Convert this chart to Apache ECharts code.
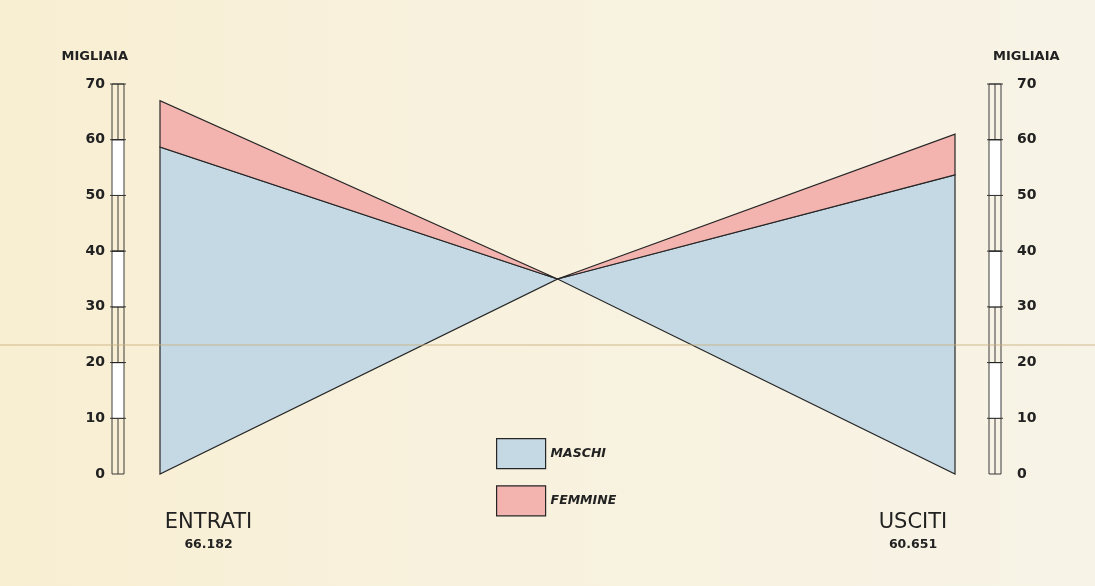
<!DOCTYPE html>
<html>
<head>
<meta charset="utf-8">
<script src="https://cdn.jsdelivr.net/npm/echarts@6/dist/echarts.min.js"></script>
<style>
  html, body { margin: 0; padding: 0; }
  body { background: linear-gradient(90deg, #f8eed2 0%, #f8f1dd 40%, #f7f3e6 100%); }
  #chart { width: 1095px; height: 586px; }
</style>
</head>
<body>
<div id="chart"></div>
<script>
// categorie (estremi del grafico)
const sides = ['ENTRATI', '', 'USCITI']
const totalLabels = ['66.182', '60.651']
// migliaia
const maschi = [58.7, 53.7]
const femmine = [8.3, 7.3]
const crossValue = 35
const yTicks = [0, 10, 20, 30, 40, 50, 60, 70]

const BLUE = '#c5d9e4'
const PINK = '#f3b3af'
const INK = '#262626'

const chart = echarts.init(document.getElementById('chart'))

// 0 -> lato sinistro, 1 -> lato destro
const sideData = maschi.map((m, i) => [i, m, m + femmine[i]])

function edgeIndex(side) {
  return side === 0 ? 0 : sides.length - 1
}

function triangle(api, lo, hi, fill) {
  const side = api.value(0)
  const x = edgeIndex(side)
  const p1 = api.coord([x, lo])
  const p2 = api.coord([x, hi])
  const c = api.coord([1, crossValue])
  return {
    type: 'polygon',
    shape: { points: [p1, p2, c] },
    style: { fill: fill, stroke: INK, lineWidth: 1.2 }
  }
}

// segmenti della scala verticale
const scaleSegments = []
for (let i = 0; i < yTicks.length - 1; i++) {
  scaleSegments.push([yTicks[i], yTicks[i + 1], i % 2])
}

function scaleBar(params, api) {
  const lo = api.value(0)
  const hi = api.value(1)
  const solid = api.value(2)
  const a = api.coord([0, lo])
  const b = api.coord([0, hi])
  const gridLeft = params.coordSys.x
  const gridRight = params.coordSys.x + params.coordSys.width
  const children = []
  const bars = [gridLeft - 48, gridRight + 34]
  bars.forEach(x0 => {
    const w = 12
    children.push({
      type: 'rect',
      shape: { x: x0, y: b[1], width: w, height: a[1] - b[1] },
      style: { fill: solid ? '#ffffff' : 'transparent', stroke: INK, lineWidth: 0.9 }
    })
    if (!solid) {
      children.push({
        type: 'line',
        shape: { x1: x0 + w / 2, y1: b[1], x2: x0 + w / 2, y2: a[1] },
        style: { stroke: INK, lineWidth: 0.9 }
      })
    }
    children.push({
      type: 'line',
      shape: { x1: x0 - 2, y1: b[1], x2: x0 + w + 2, y2: b[1] },
      style: { stroke: INK, lineWidth: 0.9 }
    })
  })
  return { type: 'group', children: children }
}

const axisLabelStyle = {
  color: '#222',
  fontFamily: 'DejaVu Sans',
  fontWeight: 'bold',
  fontSize: 14
}

const nameStyle = {
  color: '#222',
  fontFamily: 'DejaVu Sans',
  fontWeight: 'bold',
  fontSize: 13
}

chart.setOption({
  backgroundColor: 'transparent',
  animation: false,
  grid: { left: 160, right: 140, top: 84, bottom: 112 },
  legend: {
    orient: 'vertical',
    left: 496,
    top: 438,
    padding: 0,
    itemWidth: 49,
    itemHeight: 30,
    itemGap: 16,
    data: [
      { name: 'MASCHI', icon: 'rect', itemStyle: { color: BLUE, borderColor: INK, borderWidth: 1.2 } },
      { name: 'FEMMINE', icon: 'rect', itemStyle: { color: PINK, borderColor: INK, borderWidth: 1.2 } }
    ],
    textStyle: {
      color: '#222',
      fontFamily: 'DejaVu Sans',
      fontStyle: 'italic',
      fontWeight: 'bold',
      fontSize: 12.5
    },
    selectedMode: false
  },
  xAxis: {
    type: 'category',
    data: sides,
    boundaryGap: false,
    axisLine: { show: false },
    axisTick: { show: false },
    splitLine: { show: false },
    axisLabel: {
      interval: 0,
      margin: 37,
      alignMinLabel: 'left',
      alignMaxLabel: 'right',
      formatter: function (value, index) {
        if (index === 0) return '{l|' + value + '}\n{nl|' + totalLabels[0] + '}'
        if (index === sides.length - 1) return '{r|' + value + '}\n{nr|' + totalLabels[1] + '}'
        return ''
      },
      rich: {
        l: { width: 97, align: 'center', fontSize: 21, fontFamily: 'DejaVu Sans', color: '#222', lineHeight: 24 },
        nl: { width: 97, align: 'center', fontSize: 12.5, fontWeight: 'bold', fontFamily: 'DejaVu Sans', color: '#222', lineHeight: 20 },
        r: { width: 84, align: 'center', fontSize: 21, fontFamily: 'DejaVu Sans', color: '#222', lineHeight: 24 },
        nr: { width: 84, align: 'center', fontSize: 12.5, fontWeight: 'bold', fontFamily: 'DejaVu Sans', color: '#222', lineHeight: 20 }
      }
    }
  },
  yAxis: [
    {
      type: 'value',
      min: 0,
      max: 70,
      interval: 10,
      position: 'left',
      name: 'MIGLIAIA',
      nameGap: 21,
      nameTextStyle: Object.assign({ align: 'right', padding: [0, 32, 0, 0] }, nameStyle),
      axisLine: { show: false },
      axisTick: { show: false },
      splitLine: { show: false },
      axisLabel: Object.assign({ margin: 55 }, axisLabelStyle)
    },
    {
      type: 'value',
      min: 0,
      max: 70,
      interval: 10,
      position: 'right',
      name: 'MIGLIAIA',
      nameGap: 21,
      nameTextStyle: Object.assign({ align: 'left', padding: [0, 0, 0, 38] }, nameStyle),
      axisLine: { show: false },
      axisTick: { show: false },
      splitLine: { show: false },
      axisLabel: Object.assign({ margin: 62 }, axisLabelStyle)
    }
  ],
  graphic: [
    {
      type: 'line',
      silent: true,
      z: 100,
      shape: { x1: 0, y1: 345, x2: 1095, y2: 345 },
      style: { stroke: '#c9b07c', lineWidth: 1.2, opacity: 0.85 }
    }
  ],
  series: [
    {
      name: 'scala',
      type: 'custom',
      clip: false,
      silent: true,
      data: scaleSegments,
      renderItem: function (params, api) {
        return scaleBar(params, api)
      }
    },
    {
      name: 'MASCHI',
      type: 'custom',
      clip: false,
      itemStyle: { color: BLUE },
      data: sideData,
      renderItem: function (params, api) {
        return triangle(api, 0, api.value(1), BLUE)
      }
    },
    {
      name: 'FEMMINE',
      type: 'custom',
      clip: false,
      itemStyle: { color: PINK },
      data: sideData,
      renderItem: function (params, api) {
        return triangle(api, api.value(1), api.value(2), PINK)
      }
    }
  ]
})
</script>
</body>
</html>
